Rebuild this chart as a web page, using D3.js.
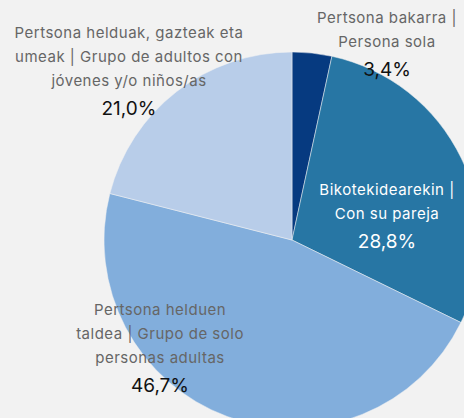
<!DOCTYPE html>
<html>
<head>
<meta charset="utf-8">
<script src="https://cdn.jsdelivr.net/npm/d3@7"></script>
<style>
  html, body { margin: 0; padding: 0; background: #f2f2f2; }
  svg { display: block; }
  text { font-family: Inter, "Noto Sans", sans-serif; }
</style>
</head>
<body>
<svg id="chart" width="464" height="418"></svg>
<script>
// data
var labelLines = [
  ["Pertsona bakarra |", "Persona sola"],
  ["Bikotekidearekin |", "Con su pareja"],
  ["Pertsona helduen", "taldea | Grupo de solo", "personas adultas"],
  ["Pertsona helduak, gazteak eta", "umeak | Grupo de adultos con", "jóvenes y/o niños/as"]
];
var values = [3.4, 28.8, 46.7, 21.0];
var colors = ["#063a80", "#2776a4", "#82aedc", "#b8cde9"];

var svg = d3.select("#chart");
var cx = 292, cy = 240, radius = 188;

var pie = d3.pie().sort(null).value(function(d) { return d; });
var arc = d3.arc().innerRadius(0).outerRadius(radius);

var g = svg.append("g").attr("transform", "translate(" + cx + "," + cy + ")");

var arcs = pie(values);

g.selectAll("path")
  .data(arcs)
  .enter()
  .append("path")
  .attr("d", arc)
  .attr("fill", function(d, i) { return colors[i]; })
  .attr("stroke", "#f2f2f2")
  .attr("stroke-width", 0.5);

// label placement (relative to pie centre), text colours
var labelPos = [[95, -222], [95, -50], [-132, 70], [-163, -207]];
var labelFill = ["#666", "#fff", "#666", "#666"];
var valueFill = ["#111", "#fff", "#111", "#111"];

var lab = g.selectAll("g.lab")
  .data(arcs)
  .enter()
  .append("g")
  .attr("class", "lab")
  .attr("transform", function(d, i) { return "translate(" + labelPos[i][0] + "," + labelPos[i][1] + ")"; });

lab.each(function(d, i) {
  var el = d3.select(this);
  labelLines[i].forEach(function(line, j) {
    el.append("text")
      .attr("text-anchor", "middle")
      .attr("y", j * 24)
      .attr("dy", "0.35em")
      .attr("fill", labelFill[i])
      .style("font-size", "15px")
      .style("letter-spacing", "0.5px")
      .text(line);
  });
  el.append("text")
    .attr("text-anchor", "middle")
    .attr("y", labelLines[i].length * 24 + 3)
    .attr("dy", "0.35em")
    .attr("fill", valueFill[i])
    .style("font-size", "19px")
    .text(d3.format(".1f")(d.data).replace(".", ",") + "%");
});
</script>
</body>
</html>
